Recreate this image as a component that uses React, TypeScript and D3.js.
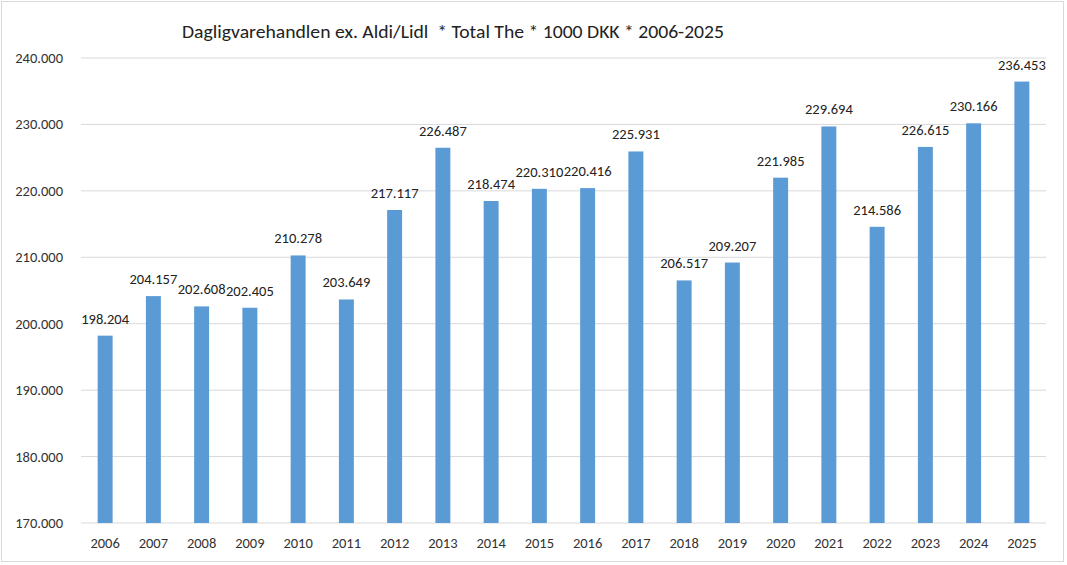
import React from "react";
import * as d3 from "d3";

const years = ["2006","2007","2008","2009","2010","2011","2012","2013","2014","2015","2016","2017","2018","2019","2020","2021","2022","2023","2024","2025"];
const values = [198204,204157,202608,202405,210278,203649,217117,226487,218474,220310,220416,225931,206517,209207,221985,229694,214586,226615,230166,236453];
const yTicks = [170000,180000,190000,200000,210000,220000,230000,240000];
const title = "Dagligvarehandlen ex. Aldi/Lidl  * Total The * 1000 DKK * 2006-2025";

const fmt = (v: number) => d3.format(",")(v).replace(/,/g, ".");

export default function App() {
  const W = 1067, H = 565;
  const left = 81, right = 1046, top = 58, bottom = 523;
  const x = d3.scaleBand().domain(years).range([left, right]).paddingInner(0.69).paddingOuter(0.345);
  const y = d3.scaleLinear().domain([170000, 240000]).range([bottom, top]);
  const font = "Carlito, Calibri, 'Open Sans', sans-serif";
  return (
    <svg width={W} height={H} style={{ position: "absolute", left: 0, top: 0, background: "#fff" }}>
      <rect x={1.5} y={1.5} width={1062} height={560} fill="#fff" stroke="#d9d9d9" />
      <text x={453} y={38} textAnchor="middle" fontFamily={font} fontSize={17.5} fill="#222" style={{ whiteSpace: "pre" }} textLength={542} lengthAdjust="spacingAndGlyphs">{title}</text>
      {yTicks.map(t => (
        <g key={t}>
          <line x1={left} x2={right} y1={y(t)} y2={y(t)} stroke="#d9d9d9" strokeWidth={1} />
          <text x={63} y={y(t) + 5} textAnchor="end" fontFamily={font} fontSize={14.5} fill="#333">{fmt(t)}</text>
        </g>
      ))}
      {years.map((yr, i) => (
        <g key={yr}>
          <rect x={x(yr)} y={y(values[i])} width={x.bandwidth()} height={bottom - y(values[i])} fill="#5B9BD5" />
          <text x={(x(yr) as number) + x.bandwidth() / 2} y={y(values[i]) - 12} textAnchor="middle" fontFamily={font} fontSize={14.5} fill="#222">{fmt(values[i])}</text>
          <text x={(x(yr) as number) + x.bandwidth() / 2} y={548} textAnchor="middle" fontFamily={font} fontSize={14.5} fill="#333">{yr}</text>
        </g>
      ))}
    </svg>
  );
}
